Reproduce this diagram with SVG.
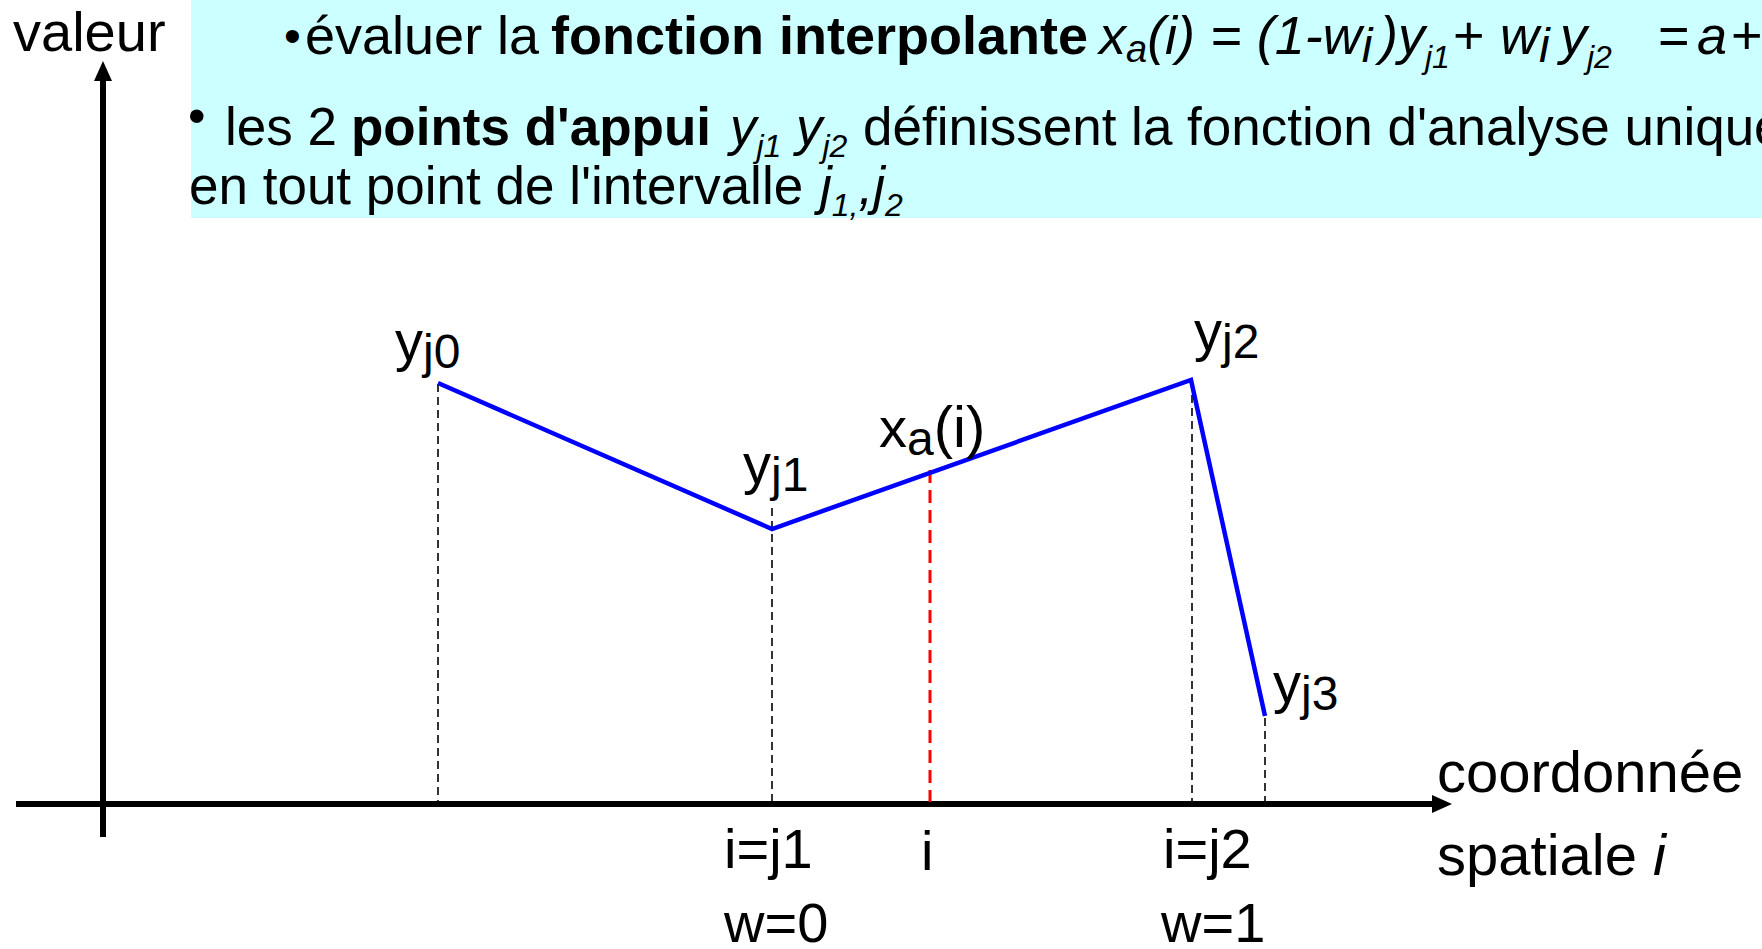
<svg xmlns="http://www.w3.org/2000/svg" width="1762" height="949" viewBox="0 0 1762 949">
<defs>
<style>
text{font-family:"Liberation Sans",Arial,sans-serif;fill:#000}
.h1{font-size:54px}
.h2{font-size:53px}
.lb{font-size:56px}
.lb2{font-size:58px}
.b{font-weight:bold}
.it{font-style:italic}
.guide{stroke:#000;stroke-width:1.6;stroke-dasharray:8 5;fill:none}
.axis{stroke:#000;stroke-width:6;fill:none}
</style>
</defs>
<rect width="1762" height="949" fill="#fff"/>
<g id="header">
<rect x="191" y="0" width="1571" height="218" fill="#CCFFFF"/>
<text x="284" y="52" font-size="48">•</text>
<text class="h1" y="54"><tspan x="305">évaluer la</tspan><tspan class="b" x="551">fonction interpolante</tspan><tspan class="it" x="1099">x</tspan><tspan class="it" font-size="38" dy="8">a</tspan><tspan class="it" dy="-8">(i) = (1-w</tspan><tspan class="it" font-size="48" dy="8">i</tspan><tspan class="it" dy="-8" x="1380">)y</tspan><tspan class="it" font-size="32" dy="14">j1</tspan><tspan dy="-14" x="1453">+</tspan><tspan class="it" x="1500">w</tspan><tspan class="it" font-size="48" dy="8">i</tspan><tspan class="it" dy="-8" x="1560">y</tspan><tspan class="it" font-size="32" dy="14">j2</tspan><tspan dy="-14" x="1658">=</tspan><tspan class="it" x="1697">a</tspan><tspan x="1731">+</tspan></text>
<text x="188" y="133" font-size="50">•</text>
<text class="h2" y="145"><tspan x="225">les 2</tspan><tspan class="b" x="351">points d'appui</tspan><tspan class="it" x="730">y</tspan><tspan class="it" font-size="32" dy="12">j1</tspan><tspan class="it" dy="-12" x="796">y</tspan><tspan class="it" font-size="32" dy="12">j2</tspan><tspan dy="-12" x="863">définissent la fonction d'analyse unique</tspan></text>
<text class="h2" y="204"><tspan x="189">en tout point de l'intervalle</tspan><tspan class="it" x="820">j</tspan><tspan class="it" font-size="32" dy="12">1,</tspan><tspan class="it" dy="-12">,j</tspan><tspan class="it" font-size="32" dy="12">2</tspan></text>
</g>
<g id="axes">
<line class="axis" x1="16" y1="804" x2="1434" y2="804"/>
<polygon points="1452,804 1432,795 1432,813" fill="#000"/>
<line class="axis" x1="103" y1="837" x2="103" y2="78"/>
<polygon points="103,61 94,81 112,81" fill="#000"/>
<text id="axis-y-label" class="lb" x="13" y="51">valeur</text>
<text id="axis-x-label1" class="lb2" x="1437" y="792">coordonnée</text>
<text id="axis-x-label2" class="lb2" x="1437" y="875">spatiale <tspan class="it">i</tspan></text>
</g>
<g id="connectors">
<line class="guide" x1="438" y1="384" x2="438" y2="802"/>
<line class="guide" x1="772" y1="508" x2="772" y2="802"/>
<line class="guide" x1="1192" y1="395" x2="1192" y2="802"/>
<line class="guide" x1="1265" y1="718" x2="1265" y2="802"/>
<line x1="930" y1="470" x2="930" y2="802" stroke="#FF0000" stroke-width="3" stroke-dasharray="13 7"/>
<polyline points="438,383 772,529 1191,380 1265,716" fill="none" stroke="#0000FF" stroke-width="4.5" stroke-linejoin="miter"/>
</g>
<g id="node-yj0"><text class="lb" x="395" y="360">y<tspan font-size="48" dy="8">j0</tspan></text></g>
<g id="node-yj1"><text class="lb" x="743" y="483">y<tspan font-size="48" dy="8">j1</tspan></text></g>
<g id="node-xa"><text class="lb" x="879" y="447">x<tspan font-size="48" dy="8">a</tspan><tspan font-size="58" dy="-8">(i)</tspan></text></g>
<g id="node-yj2"><text class="lb" x="1194" y="350">y<tspan font-size="48" dy="8">j2</tspan></text></g>
<g id="node-yj3"><text class="lb" x="1273" y="702">y<tspan font-size="48" dy="8">j3</tspan></text></g>
<g id="tick-labels">
<text class="lb" x="724" y="868">i=j1</text>
<text class="lb" x="724" y="942">w=0</text>
<text class="lb" x="921" y="870">i</text>
<text class="lb" x="1163" y="868">i=j2</text>
<text class="lb" x="1161" y="942">w=1</text>
</g>
</svg>
